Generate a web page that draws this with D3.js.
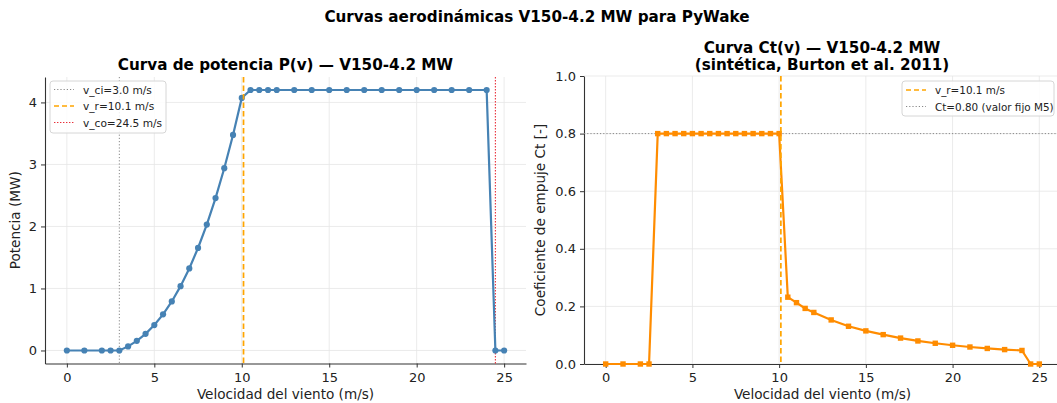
<!DOCTYPE html>
<html><head><meta charset="utf-8">
<script src="https://cdn.jsdelivr.net/npm/d3@7"></script>
<style>
body{margin:0;background:#fff;}
svg{font-family:"DejaVu Sans",sans-serif;}
</style></head>
<body><svg id="c" width="1057" height="403"></svg>
<script>
// ---- data ----
const windSpeed = [0,1,2,2.5,3,3.5,4,4.5,5,5.5,6,6.5,7,7.5,8,8.5,9,9.5,10,10.5,11,11.5,12,13,14,15,16,17,18,19,20,21,22,23,24,24.5,25];
const power = [0,0,0,0,0,0.066,0.155,0.268,0.410,0.583,0.791,1.037,1.323,1.653,2.030,2.458,2.939,3.476,4.073,4.2,4.2,4.2,4.2,4.2,4.2,4.2,4.2,4.2,4.2,4.2,4.2,4.2,4.2,4.2,4.2,0,0];
const ct = [0,0,0,0,0.8,0.8,0.8,0.8,0.8,0.8,0.8,0.8,0.8,0.8,0.8,0.8,0.8,0.8,0.8,0.232,0.213,0.193,0.179,0.153,0.131,0.115,0.102,0.090,0.080,0.072,0.065,0.059,0.054,0.050,0.047,0,0];
const xTicks = [0,5,10,15,20,25];
const pTicks = [0,1,2,3,4];
const ctTicks = [0,0.2,0.4,0.6,0.8,1.0];
const vCutIn = 3.0, vRated = 10.1, vCutOut = 24.5, ctFixed = 0.80;
const suptitle = "Curvas aerodinámicas V150-4.2 MW para PyWake";
const titleP = "Curva de potencia P(v) — V150-4.2 MW";
const titleCt = ["Curva Ct(v) — V150-4.2 MW", "(sintética, Burton et al. 2011)"];
const xLabel = "Velocidad del viento (m/s)";

const svg = d3.select("#c");
const gridCol = "#e6e6e6", spineCol = "#333";

svg.append("text").attr("x",537).attr("y",22).attr("text-anchor","middle")
  .attr("font-size",15.2).attr("font-weight","bold").text(suptitle);

function panel(o){
  const x = d3.scaleLinear().domain([-1.25,26.25]).range([o.left,o.right]);
  const y = d3.scaleLinear().domain(o.ydom).range([o.bottom,o.top]);
  const g = svg.append("g");
  g.selectAll(".gx").data(xTicks).join("line").attr("x1",d=>x(d)).attr("x2",d=>x(d))
    .attr("y1",o.top).attr("y2",o.bottom).attr("stroke",gridCol).attr("stroke-width",0.8);
  g.selectAll(".gy").data(o.yticks).join("line").attr("y1",d=>y(d)).attr("y2",d=>y(d))
    .attr("x1",o.left).attr("x2",o.right).attr("stroke",gridCol).attr("stroke-width",0.8);
  const ax = g.append("g").attr("transform",`translate(0,${o.bottom})`)
    .call(d3.axisBottom(x).tickValues(xTicks).tickSize(4).tickPadding(5).tickSizeOuter(0));
  const ay = g.append("g").attr("transform",`translate(${o.left},0)`)
    .call(d3.axisLeft(y).tickValues(o.yticks).tickFormat(o.fmt).tickSize(4).tickPadding(4).tickSizeOuter(0));
  [ax,ay].forEach(a=>{
    a.select(".domain").attr("stroke",spineCol).attr("stroke-width",1.1);
    a.selectAll(".tick line").attr("stroke",spineCol);
    a.selectAll("text").attr("font-size",13).attr("fill","#222").attr("font-family","DejaVu Sans");
  });
  g.append("text").attr("x",(o.left+o.right)/2).attr("y",399).attr("text-anchor","middle")
    .attr("font-size",13.6).attr("fill","#222").text(xLabel);
  g.append("text").attr("transform",`translate(${o.ylabX},${(o.top+o.bottom)/2}) rotate(-90)`)
    .attr("text-anchor","middle").attr("font-size",13.6).attr("fill","#222").text(o.ylab);
  return {x,y,g};
}

// ---- left panel ----
const L = panel({left:45,right:526,top:77,bottom:363.5,ydom:[-0.21,4.41],yticks:pTicks,fmt:d3.format("d"),ylab:"Potencia (MW)",ylabX:20});
L.g.append("line").attr("x1",L.x(vCutIn)).attr("x2",L.x(vCutIn)).attr("y1",77).attr("y2",363.5)
  .attr("stroke","#888").attr("stroke-width",1).attr("stroke-dasharray","1.2,2");
L.g.append("line").attr("x1",L.x(vCutOut)).attr("x2",L.x(vCutOut)).attr("y1",77).attr("y2",363.5)
  .attr("stroke","#e8303a").attr("stroke-width",1.1).attr("stroke-dasharray","1.4,1.6");
const lineP = d3.line().x((d,i)=>L.x(windSpeed[i])).y(d=>L.y(d));
L.g.append("path").datum(power).attr("d",lineP).attr("fill","none").attr("stroke","#4682b4").attr("stroke-width",2.2);
L.g.selectAll(".pp").data(power).join("circle").attr("cx",(d,i)=>L.x(windSpeed[i])).attr("cy",d=>L.y(d))
  .attr("r",3.1).attr("fill","#4682b4");
L.g.append("line").attr("x1",L.x(vRated)).attr("x2",L.x(vRated)).attr("y1",77).attr("y2",363.5)
  .attr("stroke","#ffa500").attr("stroke-width",1.7).attr("stroke-dasharray","5.5,3");

// left legend
const lg = svg.append("g");
lg.append("rect").attr("x",50).attr("y",81).attr("width",116).attr("height",52).attr("rx",3)
  .attr("fill","rgba(255,255,255,0.85)").attr("stroke","#d6d6d6");
const legL = [
  {t:`v_ci=${vCutIn.toFixed(1)} m/s`,c:"#888",da:"1.2,2",w:1},
  {t:`v_r=${vRated.toFixed(1)} m/s`,c:"#ffa500",da:"5,3",w:1.7},
  {t:`v_co=${vCutOut.toFixed(1)} m/s`,c:"#e8303a",da:"1.4,1.6",w:1.1}];
legL.forEach((d,i)=>{
  const yy = 89.5 + i*16.5;
  lg.append("line").attr("x1",54).attr("x2",74).attr("y1",yy).attr("y2",yy).attr("stroke",d.c).attr("stroke-width",d.w).attr("stroke-dasharray",d.da);
  lg.append("text").attr("x",83).attr("y",yy+4).attr("font-size",10.6).attr("fill","#222").text(d.t);
});

svg.append("text").attr("x",285.5).attr("y",70).attr("text-anchor","middle")
  .attr("font-size",15.2).attr("font-weight","bold").text(titleP);

// ---- right panel ----
const R = panel({left:584,right:1061,top:76,bottom:364,ydom:[0,1],yticks:ctTicks,fmt:d3.format(".1f"),ylab:"Coeficiente de empuje Ct [-]",ylabX:545});
R.g.append("line").attr("x1",584).attr("x2",1061).attr("y1",R.y(ctFixed)).attr("y2",R.y(ctFixed))
  .attr("stroke","#888").attr("stroke-width",1).attr("stroke-dasharray","1.2,2");
const lineC = d3.line().x((d,i)=>R.x(windSpeed[i])).y(d=>R.y(d));
R.g.append("path").datum(ct).attr("d",lineC).attr("fill","none").attr("stroke","#ff8c00").attr("stroke-width",2.2);
R.g.selectAll(".cp").data(ct).join("rect").attr("x",(d,i)=>R.x(windSpeed[i])-2.7).attr("y",d=>R.y(d)-2.7)
  .attr("width",5.4).attr("height",5.4).attr("fill","#ff8c00");
R.g.append("line").attr("x1",R.x(vRated)).attr("x2",R.x(vRated)).attr("y1",76).attr("y2",364)
  .attr("stroke","#ffa500").attr("stroke-width",1.7).attr("stroke-dasharray","5.5,3");

const rg = svg.append("g");
rg.append("rect").attr("x",902).attr("y",81).attr("width",152).attr("height",35).attr("rx",3)
  .attr("fill","rgba(255,255,255,0.85)").attr("stroke","#d6d6d6");
const legR = [
  {t:`v_r=${vRated.toFixed(1)} m/s`,c:"#ffa500",da:"5,3",w:1.7},
  {t:`Ct=${ctFixed.toFixed(2)} (valor fijo M5)`,c:"#888",da:"1.2,2",w:1}];
legR.forEach((d,i)=>{
  const yy = 90 + i*16.5;
  rg.append("line").attr("x1",906).attr("x2",926).attr("y1",yy).attr("y2",yy).attr("stroke",d.c).attr("stroke-width",d.w).attr("stroke-dasharray",d.da);
  rg.append("text").attr("x",935).attr("y",yy+4).attr("font-size",10.4).attr("fill","#222").text(d.t);
});

svg.append("text").attr("x",822).attr("y",53).attr("text-anchor","middle")
  .attr("font-size",15.2).attr("font-weight","bold").text(titleCt[0]);
svg.append("text").attr("x",822).attr("y",70).attr("text-anchor","middle")
  .attr("font-size",15.2).attr("font-weight","bold").text(titleCt[1]);
</script></body></html>
